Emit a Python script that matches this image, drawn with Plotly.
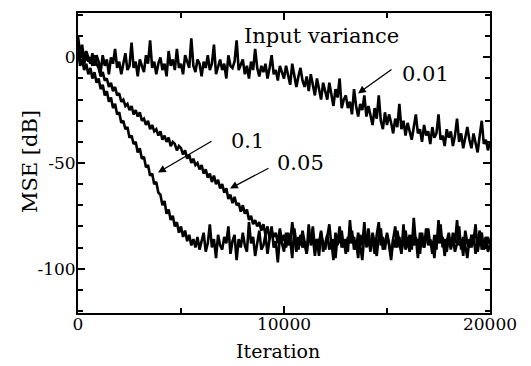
import plotly.graph_objects as go

iterations = list(range(0, 20001, 100))

mse_var001 = [
    10, 2, 6, -1, 3, 0, -3, 2, -4, 1,
    -2, -7, 1, -4, -1, -8, 0, -3, 4, -5,
    -2, -8, -3, 2, -6, -4, 7, -5, -2, -9,
    -1, -4, -7, 1, -3, 8, -5, -2, -8, -3,
    0, -6, -3, -9, 3, -4, -1, -6, 4, -5,
    -3, -8, 1, -2, -5, 9, -4, -7, -1, -3,
    -9, -2, -5, 1, -6, -3, 6, -8, -4, -1,
    -6, -3, -10, 1, -4, -5, -2, 8, -6, -3,
    -1, -8, -4, -10, -2, -6, 4, -5, -9, -4,
    -7, -3, -10, -5, 1, -8, -6, -11, -4, -7,
    -10, -4, -9, -13, -3, -8, -14, -9, -5, -11,
    -14, -9, -16, -8, -13, -18, -10, -15, -20, -12,
    -16, -20, -12, -18, -23, -15, -19, -10, -24, -20,
    -18, -24, -21, -27, -15, -23, -28, -22, -25, -18,
    -28, -23, -27, -32, -24, -29, -18, -30, -34, -26,
    -32, -27, -31, -36, -29, -33, -22, -34, -30, -37,
    -31, -35, -39, -33, -27, -36, -34, -40, -32, -37,
    -35, -41, -33, -38, -36, -27, -39, -37, -42, -34,
    -38, -35, -42, -37, -29, -40, -36, -43, -38, -33,
    -39, -43, -36, -40, -45, -37, -30, -41, -39, -44, -40,
]

mse_var005 = [
    5, -1, 3, -3, 1, -2, 0, -4, 1, -3,
    -5, -9, -7, -11, -10, -14, -12, -16, -14, -18,
    -17, -21, -20, -23, -22, -25, -23, -27, -25, -28,
    -26, -30, -29, -32, -30, -34, -32, -35, -34, -37,
    -35, -39, -37, -40, -38, -42, -40, -41, -44, -42,
    -43, -46, -44, -48, -46, -50, -48, -51, -50, -53,
    -51, -55, -53, -57, -55, -59, -56, -60, -58, -62,
    -60, -64, -62, -67, -65, -69, -66, -70, -69, -73,
    -70, -74, -72, -77, -75, -79, -77, -80, -78, -82,
    -79, -84, -80, -86, -82, -85, -83, -88, -81, -87,
    -84, -90, -83, -88, -78, -86, -92, -85, -89, -82,
    -88, -93, -84, -87, -80, -90, -86, -94, -83, -88,
    -91, -85, -79, -89, -86, -95, -84, -88, -82, -90,
    -86, -92, -77, -88, -85, -91, -83, -89, -96, -84,
    -87, -81, -90, -86, -93, -84, -78, -89, -85, -91,
    -83, -88, -94, -86, -80, -90, -85, -92, -87, -82,
    -89, -84, -91, -76, -88, -86, -93, -83, -90, -85,
    -81, -89, -87, -95, -84, -88, -79, -90, -86, -92,
    -85, -91, -83, -88, -77, -89, -86, -94, -82, -88,
    -90, -84, -87, -79, -92, -86, -83, -91, -88, -85, -89,
]

mse_var01 = [
    4, -4, -1, -6, -3, -8, -5, -10, -7, -12,
    -10, -15, -13, -18, -16, -21, -19, -24, -22, -27,
    -26, -31, -30, -34, -33, -38, -37, -41, -40, -45,
    -43, -48, -47, -52, -51, -56, -55, -60, -59, -64,
    -65, -70, -68, -74, -72, -77, -75, -80, -78, -83,
    -80, -85, -82, -87, -84, -89, -86, -90, -85, -91,
    -87, -83, -92, -88, -79, -90, -86, -95, -84, -89,
    -91, -85, -88, -80, -93, -87, -84, -96, -86, -90,
    -83, -89, -92, -78, -88, -85, -94, -87, -82, -91,
    -89, -84, -93, -86, -80, -90, -87, -97, -85, -88,
    -92, -83, -89, -86, -95, -81, -88, -91, -84, -90,
    -87, -93, -79, -89, -85, -94, -86, -88, -82, -92,
    -88, -84, -91, -87, -96, -83, -89, -80, -90, -86,
    -93, -85, -88, -82, -91, -87, -95, -84, -89, -78,
    -90, -86, -92, -83, -88, -94, -85, -81, -91, -87,
    -84, -89, -96, -86, -90, -82, -88, -93, -79, -91,
    -87, -92, -84, -89, -85, -95, -83, -88, -90, -81,
    -89, -86, -93, -84, -91, -77, -88, -85, -94, -87,
    -83, -90, -86, -92, -88, -80, -91, -85, -89, -95,
    -86, -90, -84, -93, -87, -82, -91, -88, -85, -92, -89,
]

y_tick_vals = [0, -50, -100]
y_tick_text = ["0", "-50", "-100"]
x_tick_vals = [0, 10000, 20000]
x_tick_text = ["0", "10000", "20000"]

FONT = "DejaVu Serif"

fig = go.Figure()
for series in (mse_var001, mse_var005, mse_var01):
    fig.add_trace(go.Scatter(x=iterations, y=series, mode="lines",
                             line=dict(color="black", width=2.6),
                             showlegend=False, hoverinfo="skip"))

axis_common = dict(showline=True, linecolor="black", linewidth=2, mirror="ticks",
                   ticks="inside", tickcolor="black", tickwidth=2, ticklen=7,
                   showgrid=False, zeroline=False,
                   tickfont=dict(family=FONT, size=17, color="black"))

fig.update_xaxes(range=[0, 20000], tickvals=x_tick_vals, ticktext=x_tick_text,
                 ticklabelstandoff=-5,
                 minor=dict(ticks="inside", dtick=5000, tick0=0, ticklen=5,
                            tickwidth=2, tickcolor="black"),
                 **axis_common)
fig.update_yaxes(range=[-121, 21], tickvals=y_tick_vals, ticktext=y_tick_text,
                 ticklabelstandoff=-3,
                 minor=dict(ticks="inside", dtick=10, tick0=0, ticklen=5,
                            tickwidth=2, tickcolor="black"),
                 **axis_common)

annot_font = dict(family=FONT, size=21, color="black")
arrow_style = dict(text="", showarrow=True, arrowhead=2, arrowsize=1.2,
                   arrowwidth=1.3, arrowcolor="black", axref="x", ayref="y")
annotations = [
    dict(x=11796, y=10, text="Input variance", showarrow=False, font=annot_font,
         xanchor="center", yanchor="middle"),
    dict(x=16845, y=-8.1, text="0.01", showarrow=False, font=annot_font,
         xanchor="center", yanchor="middle"),
    dict(x=8252, y=-39.8, text="0.1", showarrow=False, font=annot_font,
         xanchor="center", yanchor="middle"),
    dict(x=10777, y=-50.2, text="0.05", showarrow=False, font=annot_font,
         xanchor="center", yanchor="middle"),
    dict(x=13592, y=-17.1, ax=15291, ay=-5.2, **arrow_style),
    dict(x=3883, y=-54.5, ax=6553, ay=-39.3, **arrow_style),
    dict(x=7379, y=-62.1, ax=9320, ay=-52.1, **arrow_style),
    dict(x=0.485, y=-0.125, xref="paper", yref="paper", text="Iteration",
         xanchor="center", yanchor="middle",
         showarrow=False, font=dict(family=FONT, size=19, color="black")),
    dict(x=-0.1165, y=0.503, xref="paper", yref="paper", text="MSE [dB]",
         xanchor="center", yanchor="middle",
         textangle=-90, showarrow=False, font=dict(family=FONT, size=21, color="black")),
]

fig.update_layout(width=531, height=366,
                  margin=dict(l=78, r=41, t=13, b=53),
                  paper_bgcolor="white", plot_bgcolor="white",
                  annotations=annotations)

fig.write_html("out.html")
